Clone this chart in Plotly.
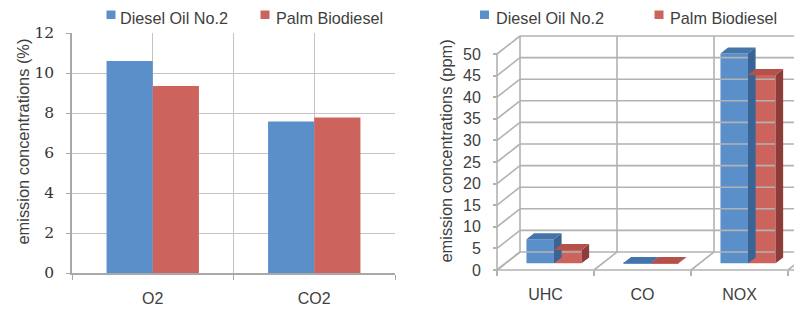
import plotly.graph_objects as go

# ---------------- data ----------------
SERIES = ["Diesel Oil No.2", "Palm Biodiesel"]
LEFT_CATS = ["O2", "CO2"]
LEFT_DIESEL = [10.6, 7.57]
LEFT_PALM = [9.35, 7.77]
LEFT_YTICKS = [0, 2, 4, 6, 8, 10, 12]

RIGHT_CATS = ["UHC", "CO", "NOX"]
RIGHT_DIESEL = [5.6, 0.1, 48.6]
RIGHT_PALM = [3.1, 0.1, 43.6]
RIGHT_YTICKS = [0, 5, 10, 15, 20, 25, 30, 35, 40, 45, 50]

# ---------------- style ----------------
VW, VH = 802, 309          # browser window
OFF = 8                    # default page body margin
FW, FH = VW - OFF, VH - OFF  # figure size so that it exactly fills the window
BLUE = "#5b8fca"
RED = "#cc645d"
BLUE_TOP = "#4374aa"
BLUE_SIDE = "#3a6494"
RED_TOP = "#b4514a"
RED_SIDE = "#8e3c37"
GRID = "#c4c4c4"
AXIS = "#a8a8a8"
WALL = "#b2b2b2"
TXT = "#404040"
SANS = "Liberation Sans, Arial, sans-serif"
SERIF = "DejaVu Serif, serif"


def px_x(p):
    """window pixel x -> paper fraction"""
    return (p - OFF) / FW


def px_y(p):
    """window pixel y (from top) -> paper fraction"""
    return (FH - (p - OFF)) / FH


fig = go.Figure()

# ---------------- left chart (2D) ----------------
BW_L = 0.286
lcent = [i + 0.5 for i in range(len(LEFT_CATS))]
fig.add_trace(go.Bar(x=lcent, y=LEFT_DIESEL, width=BW_L, offset=-BW_L, marker_color=BLUE,
                     marker_line_width=0, name=SERIES[0], showlegend=False, xaxis="x", yaxis="y"))
fig.add_trace(go.Bar(x=lcent, y=LEFT_PALM, width=BW_L, offset=0, marker_color=RED,
                     marker_line_width=0, name=SERIES[1], showlegend=False, xaxis="x", yaxis="y"))

# ---------------- right chart (3D look) ----------------
PXU_X = 97.0      # px per category
PXU_Y = 4.32      # px per unit
X0_PX = 497.0     # front axis x (window px)
Y0_PX = 270.0     # front floor y (window px)
DX = 23.0 / PXU_X  # depth offset in data units
DY = 18.0 / PXU_Y
F1, F2 = 0.37, 0.70
BW_R = 0.284
ncat = len(RIGHT_CATS)
XMAX = (VW - X0_PX) / PXU_X
XMIN = -0.1
YMIN = -1.0
YMAX = (Y0_PX - 33) / PXU_Y

# walls
wx, wy = [], []
for lv in RIGHT_YTICKS:
    wx += [DX, XMAX + 1, None]
    wy += [lv + DY, lv + DY, None]
    wx += [0, DX, None]
    wy += [lv, lv + DY, None]
for k in range(ncat + 1):
    wx += [k + DX, k + DX, None]
    wy += [DY, RIGHT_YTICKS[-1] + DY, None]
    wx += [k, k + DX, None]
    wy += [0, DY, None]
wx += [0, 0, None, 0, XMAX + 1, None]
wy += [0, RIGHT_YTICKS[-1], None, 0, 0, None]
fig.add_trace(go.Scatter(x=wx, y=wy, mode="lines", line=dict(color=WALL, width=1.6),
                         hoverinfo="skip", showlegend=False, xaxis="x2", yaxis="y2"))

rcent = [i + 0.5 for i in range(ncat)]


def faces(values, left_off):
    tx, ty, sx, sy = [], [], [], []
    for c, v in zip(rcent, values):
        xl = c + left_off
        xr = xl + BW_R
        b1, b2 = F1 * DY, F2 * DY
        o1, o2 = F1 * DX, F2 * DX
        tx += [xl + o1, xr + o1, xr + o2, xl + o2, xl + o1, None]
        ty += [v + b1, v + b1, v + b2, v + b2, v + b1, None]
        sx += [xr + o1, xr + o1, xr + o2, xr + o2, xr + o1, None]
        sy += [b1, v + b1, v + b2, b2, b1, None]
    return tx, ty, sx, sy


for vals, off, cf, ct, cs, nm in [(RIGHT_DIESEL, -BW_R, BLUE, BLUE_TOP, BLUE_SIDE, SERIES[0]),
                                  (RIGHT_PALM, 0.0, RED, RED_TOP, RED_SIDE, SERIES[1])]:
    tx, ty, sx, sy = faces(vals, off)
    fig.add_trace(go.Scatter(x=sx, y=sy, fill="toself", fillcolor=cs, mode="lines",
                             line=dict(width=0, color=cs), hoverinfo="skip", showlegend=False,
                             xaxis="x2", yaxis="y2"))
    fig.add_trace(go.Scatter(x=tx, y=ty, fill="toself", fillcolor=ct, mode="lines",
                             line=dict(width=0, color=ct), hoverinfo="skip", showlegend=False,
                             xaxis="x2", yaxis="y2"))
    fig.add_trace(go.Bar(x=[c + F1 * DX for c in rcent], y=vals, base=F1 * DY, width=BW_R,
                         offset=off, marker_color=cf, marker_line_width=0, name=nm,
                         showlegend=False, xaxis="x2", yaxis="y2"))

# ---------------- layout ----------------
fig.update_layout(
    width=FW, height=FH, autosize=False,
    margin=dict(l=0, r=0, t=0, b=0, pad=0),
    paper_bgcolor="white", plot_bgcolor="white",
    barmode="overlay",
    xaxis=dict(domain=[px_x(72), px_x(395)], range=[0, len(LEFT_CATS)], automargin=False,
               tickmode="array", tickvals=lcent, ticktext=LEFT_CATS, ticks="",
               showgrid=True, gridcolor=GRID, gridwidth=1.3,
               minor=dict(tickmode="array", tickvals=list(range(len(LEFT_CATS) + 1)),
                          ticks="outside", ticklen=5, tickcolor=AXIS, tickwidth=1.3,
                          showgrid=True, gridcolor=GRID, gridwidth=1.3),
               showline=True, linecolor=AXIS, linewidth=1.5, zeroline=False,
               tickfont=dict(family=SANS, size=16, color=TXT), ticklabelstandoff=10,
               fixedrange=True),
    yaxis=dict(domain=[px_y(273), px_y(33)], range=[0, 12], anchor="x", automargin=False,
               tickmode="array", tickvals=LEFT_YTICKS, ticks="outside", ticklen=4,
               tickcolor=AXIS, tickwidth=1.3,
               showgrid=True, gridcolor=GRID, gridwidth=1.3,
               showline=True, linecolor=AXIS, linewidth=1.5, zeroline=False,
               tickfont=dict(family=SERIF, size=15.5, color="#333333"), ticklabelstandoff=9,
               fixedrange=True),
    xaxis2=dict(domain=[px_x(X0_PX + XMIN * PXU_X), 1], range=[XMIN, XMAX], automargin=False,
                anchor="free", position=px_y(Y0_PX),
                tickmode="array", tickvals=rcent, ticktext=RIGHT_CATS, ticks="",
                showgrid=False, zeroline=False, showline=False,
                minor=dict(tickmode="array", tickvals=list(range(ncat + 1)), ticks="outside",
                           ticklen=5, tickcolor=WALL, tickwidth=1.6, showgrid=False),
                tickfont=dict(family=SANS, size=16, color=TXT), ticklabelstandoff=13,
                fixedrange=True),
    yaxis2=dict(domain=[px_y(Y0_PX - YMIN * PXU_Y), px_y(33)], range=[YMIN, YMAX],
                automargin=False, anchor="free", position=px_x(X0_PX),
                tickmode="array", tickvals=RIGHT_YTICKS, ticks="outside", ticklen=4,
                tickcolor=WALL, tickwidth=1.6,
                showgrid=False, zeroline=False, showline=False,
                tickfont=dict(family=SANS, size=16, color=TXT), ticklabelstandoff=9,
                fixedrange=True),
)

# axis titles
fig.add_annotation(text="emission concentrations (%)", x=px_x(22), y=px_y(141.5),
                   xref="paper", yref="paper", textangle=-90, showarrow=False,
                   xanchor="center", yanchor="middle",
                   font=dict(family=SANS, size=16.4, color=TXT))
fig.add_annotation(text="emission concentrations (ppm)", x=px_x(445), y=px_y(151.5),
                   xref="paper", yref="paper", textangle=-90, showarrow=False,
                   xanchor="center", yanchor="middle",
                   font=dict(family=SANS, size=16.4, color=TXT))

# legends (key square + label)
legend_items = [
    (106.5, 118, SERIES[0], BLUE),
    (260.5, 273.5, SERIES[1], RED),
    (480, 493.5, SERIES[0], BLUE),
    (654.5, 667.5, SERIES[1], RED),
]
for sq_x, tx_x, label, col in legend_items:
    fig.add_shape(type="rect", xref="paper", yref="paper",
                  x0=px_x(sq_x), x1=px_x(sq_x + 9), y0=px_y(19), y1=px_y(10.5),
                  fillcolor=col, line=dict(width=0))
    fig.add_annotation(text=label, x=px_x(tx_x), y=px_y(17.5), xref="paper", yref="paper",
                       showarrow=False, xanchor="left", yanchor="middle",
                       font=dict(family=SANS, size=16.2, color=TXT))

fig.write_html("out.html")
